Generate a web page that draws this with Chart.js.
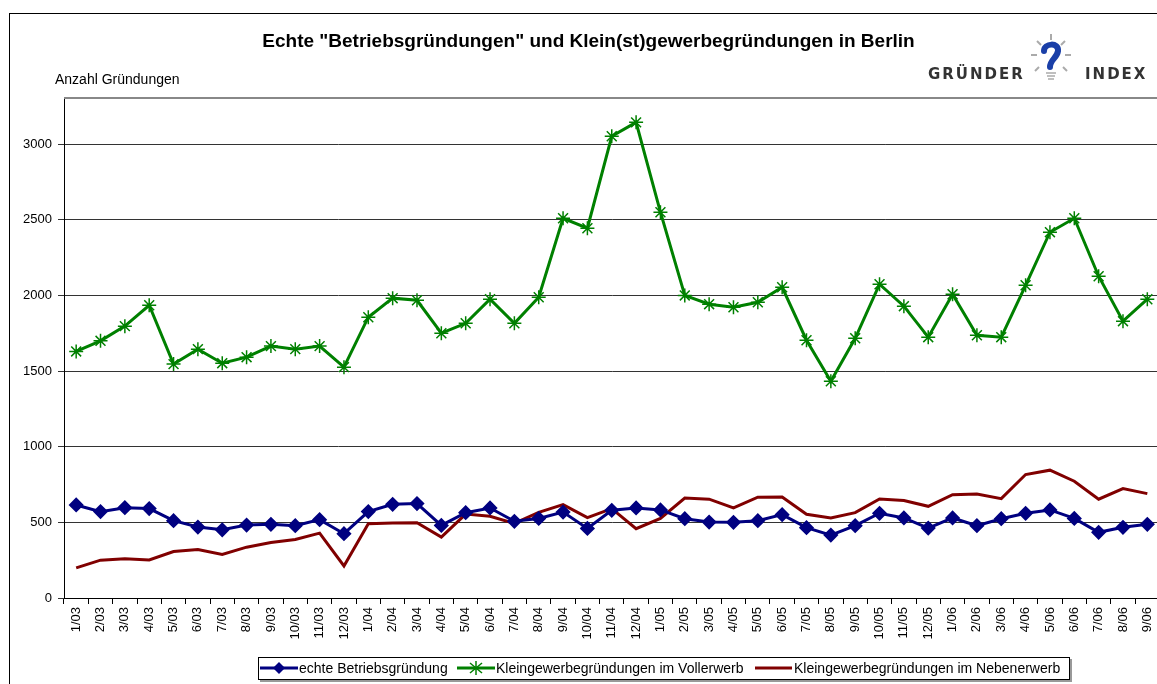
<!DOCTYPE html>
<html>
<head>
<meta charset="utf-8">
<script src="https://cdn.jsdelivr.net/npm/chart.js@4.4.0/dist/chart.umd.min.js"></script>
<style>
  body { margin:0; background:#fff; overflow:hidden; width:1157px; height:684px; position:relative; font-family:"Liberation Sans", Arial, sans-serif; }
  #frame { position:absolute; left:9px; top:13px; width:1200px; height:700px; border:1px solid #000; }
  #chartBox { position:absolute; left:0; top:0; width:1168px; height:684px; }
  #title { position:absolute; left:0; width:1177px; top:30px; text-align:center; font-weight:bold; font-size:19px; }
  #yTitle { position:absolute; left:55px; top:71px; font-size:14px; }
  #plotTop { position:absolute; left:64px; top:97px; width:1100px; height:0; border-top:2px solid #888; }
  #logo { position:absolute; left:928px; top:33px; width:220px; height:52px; }
  #logo .w { position:absolute; top:32px; font-weight:bold; font-size:15px; letter-spacing:2px; color:#333; font-family:"DejaVu Sans", sans-serif; }
  #legend { position:absolute; left:258px; top:657px; width:810px; height:21px; border:1px solid #000; box-shadow:2px 2px 0 #999; font-size:14px; white-space:nowrap; }
  #legend span.item { position:absolute; top:2px; display:flex; align-items:center; }
  #legend svg { margin-right:1px; }
</style>
</head>
<body>
<div id="frame"></div>
<div id="chartBox"><canvas id="chart" width="1168" height="684"></canvas></div>
<div id="plotTop"></div>
<div id="title">Echte "Betriebsgründungen" und Klein(st)gewerbegründungen in Berlin</div>
<div id="yTitle">Anzahl Gründungen</div>
<div id="logo">
  <span class="w" style="left:0">GRÜNDER</span>
  <svg style="position:absolute;left:98px;top:0" width="50" height="52" viewBox="0 0 50 52">
    <g stroke="#aaa" stroke-width="2">
      <line x1="25" y1="1" x2="25" y2="7"/><line x1="11" y1="8" x2="15" y2="12"/><line x1="39" y1="8" x2="35" y2="12"/>
      <line x1="5" y1="22" x2="11" y2="22"/><line x1="39" y1="22" x2="45" y2="22"/>
      <line x1="9" y1="38" x2="13" y2="34"/><line x1="41" y1="38" x2="37" y2="34"/>
    </g>
    <path d="M18 18 C18 10 33 9 32 18 C31 25 24 27 24 34" stroke="#1a3fa8" stroke-width="6" fill="none" stroke-linecap="round"/>
    <g stroke="#aaa" stroke-width="1.5"><line x1="20" y1="40" x2="30" y2="40"/><line x1="21" y1="43" x2="29" y2="43"/><line x1="22" y1="46" x2="28" y2="46"/></g>
  </svg>
  <span class="w" style="left:157px">INDEX</span>
</div>
<div id="legend">
  <span class="item" style="left:1px"><svg width="38" height="12"><line x1="0" y1="6" x2="38" y2="6" stroke="#000080" stroke-width="3"/><path d="M19 0 L25 6 L19 12 L13 6 Z" fill="#000080"/></svg>echte Betriebsgründung</span>
  <span class="item" style="left:198px"><svg width="38" height="14"><line x1="0" y1="7" x2="38" y2="7" stroke="#008000" stroke-width="3"/><g stroke="#008000" stroke-width="1.5"><line x1="19" y1="0" x2="19" y2="14"/><line x1="13" y1="2" x2="25" y2="12"/><line x1="25" y1="2" x2="13" y2="12"/></g></svg>Kleingewerbegründungen im Vollerwerb</span>
  <span class="item" style="left:496px"><svg width="38" height="12"><line x1="0" y1="6" x2="37" y2="6" stroke="#800000" stroke-width="3"/></svg>Kleingewerbegründungen im Nebenerwerb</span>
</div>
<script>
const months = ['1/03','2/03','3/03','4/03','5/03','6/03','7/03','8/03','9/03','10/03','11/03','12/03',
  '1/04','2/04','3/04','4/04','5/04','6/04','7/04','8/04','9/04','10/04','11/04','12/04',
  '1/05','2/05','3/05','4/05','5/05','6/05','7/05','8/05','9/05','10/05','11/05','12/05',
  '1/06','2/06','3/06','4/06','5/06','6/06','7/06','8/06','9/06'];

const echte = [615,571,597,591,511,469,451,482,487,478,518,425,
  571,619,624,480,564,595,507,526,568,460,580,595,
  582,524,502,500,511,551,465,416,478,560,529,462,
  529,478,524,560,582,526,434,467,487];

const vollerwerb = [1630,1700,1797,1935,1546,1645,1552,1592,1665,1645,1665,1526,
  1856,1982,1968,1750,1816,1975,1816,1988,2510,2444,3052,3144,
  2550,2000,1942,1922,1955,2054,1704,1433,1717,2074,1929,1724,
  2008,1737,1724,2067,2418,2510,2127,1830,1975];

const nebenerwerb = [199,250,259,252,307,321,288,336,367,387,429,212,
  491,495,498,403,555,540,493,566,617,531,591,458,
  526,661,653,595,666,668,553,529,564,655,644,606,
  683,688,657,816,845,772,653,723,690];

const yTicks = [0,500,1000,1500,2000,2500,3000];

const fontFam = '"Liberation Sans", Arial, sans-serif';

new Chart(document.getElementById('chart'), {
  type: 'line',
  data: {
    labels: months,
    datasets: [
      { label:'echte Betriebsgründung', data:echte, borderColor:'#000080', backgroundColor:'#000080',
        borderWidth:3, pointStyle:'rectRot', pointRadius:5.5, pointHoverRadius:5.5, tension:0 },
      { label:'Kleingewerbegründungen im Vollerwerb', data:vollerwerb, borderColor:'#008000', backgroundColor:'#008000',
        borderWidth:3, pointStyle:'star', pointRadius:7, pointBorderWidth:1.5, tension:0 },
      { label:'Kleingewerbegründungen im Nebenerwerb', data:nebenerwerb, borderColor:'#800000', backgroundColor:'#800000',
        borderWidth:3, pointRadius:0, tension:0 }
    ]
  },
  options: {
    responsive:false,
    animation:false,
    devicePixelRatio:1,
    layout:{ padding:{ left:0, right:0, top:98, bottom:0 } },
    plugins:{ legend:{ display:false }, tooltip:{ enabled:false } },
    scales:{
      x:{
        offset:true,
        grid:{ offset:true, drawOnChartArea:false, drawTicks:true, tickLength:6, color:'#000' },
        border:{ color:'#000', width:1 },
        ticks:{ color:'#000', font:{ family:fontFam, size:13 }, minRotation:90, maxRotation:90, padding:3, autoSkip:false },
        afterFit(axis){ axis.height = 86; }
      },
      y:{
        min:0, max:3305,
        grid:{ color:'#333', lineWidth:1, tickLength:6, drawTicks:true },
        border:{ color:'#000', width:1 },
        ticks:{ color:'#000', font:{ family:fontFam, size:13 }, padding:6, stepSize:500, callback:v => String(v) },
        afterBuildTicks(axis){ axis.ticks = yTicks.map(v => ({ value:v })); },
        afterFit(axis){ axis.width = 64; }
      }
    }
  }
});
</script>
</body>
</html>
